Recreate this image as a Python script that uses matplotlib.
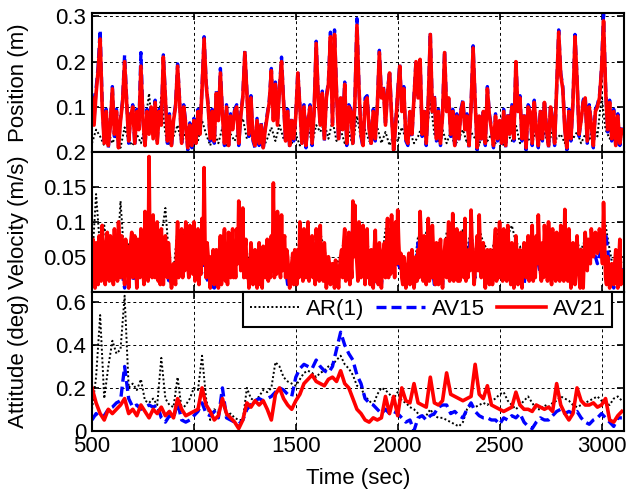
import numpy as np
import matplotlib
matplotlib.use("Agg")
import matplotlib.pyplot as plt

plt.rcParams["font.family"] = ["Liberation Sans", "DejaVu Sans"]
plt.rcParams["font.size"] = 16

# ---- data (position/velocity in milli-units) ----
t5 = np.arange(500, 3101, 5)     # 521 samples
t10 = np.arange(500, 3101, 10)   # 261 samples
t20 = np.arange(500, 3101, 20)   # 131 samples

pos_av21_mm = [
    120, 60, 130, 180, 250, 100, 20, 90, 15, 60,
    140, 40, 90, 10, 70, 110, 200, 110, 25, 80,
    100, 20, 90, 50, 190, 70, 15, 90, 40, 100,
    30, 110, 20, 90, 60, 210, 120, 25, 80, 15,
    70, 100, 190, 110, 20, 100, 60, 10, 60, 15,
    70, 20, 90, 40, 140, 250, 150, 100, 30, 90,
    25, 130, 70, 175, 80, 20, 100, 15, 80, 50,
    90, 100, 20, 80, 120, 220, 130, 40, 120, 30,
    15, 70, 20, 60, 10, 50, 80, 110, 180, 70,
    150, 60, 140, 200, 110, 25, 90, 15, 70, 30,
    80, 175, 100, 20, 100, 15, 70, 100, 20, 90,
    240, 120, 60, 130, 30, 120, 150, 255, 60, 260,
    130, 30, 120, 50, 150, 20, 100, 90, 20, 110,
    280, 140, 40, 15, 110, 120, 50, 20, 90, 30,
    100, 220, 120, 140, 60, 130, 175, 80, 5, 60,
    130, 190, 90, 140, 30, 20, 90, 40, 120, 200,
    120, 205, 40, 90, 20, 110, 260, 90, 120, 30,
    90, 20, 80, 220, 90, 120, 40, 90, 15, 80,
    30, 90, 110, 50, 80, 15, 100, 230, 110, 10,
    80, 30, 90, 20, 140, 80, 50, 15, 80, 30,
    70, 20, 90, 15, 80, 40, 100, 30, 200, 90,
    120, 30, 80, 10, 100, 90, 20, 110, 50, 15,
    90, 30, 110, 50, 15, 100, 70, 20, 140, 265,
    170, 140, 50, 10, 90, 30, 110, 255, 160, 40,
    70, 110, 120, 25, 100, 60, 15, 90, 100, 120,
    180, 290, 140, 50, 110, 30, 90, 15, 80, 20, 50]

pos_av15_mm = [
    130, 70, 140, 190, 270, 110, 25, 95, 10, 65,
    145, 35, 95, 15, 75, 115, 215, 120, 20, 85,
    105, 15, 95, 55, 220, 75, 10, 95, 45, 105,
    35, 115, 25, 95, 65, 215, 125, 20, 85, 10,
    75, 105, 195, 115, 15, 105, 65, 5, 65, 10,
    75, 15, 95, 45, 145, 255, 155, 105, 25, 95,
    20, 135, 75, 185, 85, 15, 105, 10, 85, 55,
    95, 105, 15, 85, 125, 225, 135, 35, 125, 25,
    10, 75, 15, 65, 5, 55, 85, 115, 185, 75,
    155, 65, 145, 210, 115, 20, 95, 10, 75, 25,
    85, 180, 105, 15, 105, 10, 75, 105, 15, 95,
    245, 125, 65, 135, 25, 125, 155, 265, 65, 270,
    135, 25, 125, 55, 155, 15, 105, 95, 15, 115,
    295, 145, 35, 10, 120, 125, 55, 15, 95, 25,
    105, 225, 125, 145, 65, 135, 180, 85, 5, 65,
    135, 195, 95, 145, 25, 15, 95, 35, 125, 205,
    125, 210, 35, 95, 15, 115, 265, 95, 125, 25,
    95, 15, 85, 225, 95, 125, 35, 95, 10, 85,
    25, 95, 115, 55, 85, 10, 105, 235, 115, 5,
    85, 25, 95, 15, 145, 85, 55, 10, 85, 25,
    75, 15, 95, 10, 85, 45, 105, 25, 205, 95,
    125, 25, 85, 5, 105, 95, 15, 115, 55, 10,
    95, 25, 115, 55, 10, 105, 75, 15, 145, 270,
    175, 145, 55, 5, 95, 25, 115, 260, 165, 35,
    75, 115, 125, 20, 105, 65, 10, 95, 105, 125,
    185, 305, 145, 45, 115, 25, 95, 10, 85, 15, 55]

pos_ar1_mm = [
    20, 50, 35, 15, 45, 20, 40, 10, 55, 25,
    15, 40, 20, 60, 130, 30, 50, 125, 40, 15,
    35, 60, 20, 45, 10, 40, 25, 70, 40, 15,
    45, 20, 55, 15, 40, 25, 50, 75, 30, 40,
    15, 35, 10, 30, 55, 25, 60, 30, 45, 20,
    40, 15, 35, 55, 20, 60, 45, 65, 30, 70,
    25, 50, 20, 45, 15, 80, 30, 50, 25, 35,
    55, 20, 45, 15, 40, 25, 55, 30, 45, 20,
    35, 60, 30, 115, 40, 25, 50, 20, 45, 15,
    30, 50, 20, 45, 30, 15, 55, 25, 40, 20,
    35, 15, 40, 25, 60, 20, 45, 30, 20, 55,
    25, 45, 15, 50, 30, 40, 20, 55, 30, 45,
    20, 40, 25, 60, 35, 125, 50, 30, 45, 20, 35]

vel_av21_mm = [
    50, 75, 20, 5, 70, 45, 10, 80, 60, 15, 95, 60, 30, 10, 70, 85, 40, 15, 80, 55,
    30, 10, 90, 20, 50, 15, 100, 70, 20, 80, 60, 30, 10, 75, 50, 65, 5, 40, 70, 85,
    20, 60, 80, 40, 5, 75, 60, 20, 90, 60, 30, 10, 115, 70, 40, 15, 194, 30, 60, 20,
    110, 50, 20, 70, 100, 15, 40, 10, 90, 60, 10, 40, 80, 60, 20, 70, 50, 20, 5, 15,
    40, 20, 10, 60, 100, 20, 30, 70, 90, 20, 50, 30, 100, 70, 40, 20, 95, 30, 60, 25,
    100, 15, 40, 70, 90, 10, 50, 25, 105, 40, 178, 60, 20, 70, 50, 30, 5, 50, 40, 60,
    10, 40, 60, 30, 5, 55, 80, 10, 30, 65, 90, 15, 40, 10, 85, 50, 20, 60, 90, 20,
    50, 20, 90, 40, 130, 80, 30, 60, 120, 20, 60, 75, 20, 45, 5, 30, 70, 50, 10, 40,
    60, 30, 5, 45, 70, 10, 30, 5, 65, 45, 20, 60, 75, 15, 40, 20, 80, 30, 156, 20,
    60, 25, 115, 70, 40, 20, 110, 30, 70, 80, 20, 60, 50, 25, 5, 30, 40, 55, 10, 60,
    30, 10, 60, 20, 100, 75, 40, 15, 90, 55, 20, 70, 100, 15, 30, 60, 80, 20, 50, 10,
    90, 60, 30, 15, 95, 20, 40, 15, 70, 45, 5, 30, 50, 40, 10, 25, 40, 30, 5, 45,
    30, 20, 5, 35, 50, 60, 20, 70, 90, 15, 30, 65, 85, 10, 40, 20, 130, 50, 124, 60,
    40, 15, 100, 70, 20, 60, 95, 40, 10, 65, 90, 20, 40, 10, 60, 40, 5, 60, 88, 15,
    30, 10, 70, 45, 5, 40, 60, 70, 20, 65, 105, 20, 50, 25, 110, 30, 60, 20, 100, 40,
    117, 70, 40, 55, 20, 10, 50, 30, 5, 20, 40, 55, 10, 40, 60, 30, 5, 20, 50, 15,
    60, 20, 115, 75, 30, 15, 80, 50, 10, 60, 105, 15, 40, 20, 95, 60, 20, 10, 70, 40,
    10, 50, 75, 30, 5, 40, 60, 75, 20, 60, 100, 15, 40, 20, 112, 15, 50, 20, 90, 15,
    40, 15, 85, 60, 30, 20, 105, 15, 50, 20, 60, 30, 117, 70, 40, 10, 30, 60, 80, 30,
    110, 60, 20, 50, 70, 30, 5, 45, 60, 30, 10, 60, 50, 10, 30, 70, 90, 15, 40, 20,
    100, 20, 40, 15, 90, 20, 50, 15, 95, 60, 30, 10, 70, 40, 5, 45, 80, 50, 10, 30,
    60, 30, 5, 50, 70, 45, 20, 60, 80, 15, 40, 20, 95, 15, 50, 20, 80, 40, 110, 60,
    30, 15, 70, 20, 95, 65, 40, 15, 100, 70, 30, 10, 90, 20, 50, 15, 85, 20, 40, 15,
    95, 60, 30, 15, 118, 20, 40, 15, 90, 45, 5, 40, 70, 45, 10, 55, 80, 40, 20, 5,
    60, 35, 5, 50, 85, 60, 30, 75, 60, 40, 90, 70, 50, 60, 85, 75, 55, 65, 90, 70,
    60, 40, 128, 70, 20, 10, 50, 30, 5, 20, 40, 30, 10, 40, 60, 25, 5, 45, 75, 10, 30]

vel_av15_mm = [
    40, 60, 50, 45, 30, 45, 20, 40, 5, 50,
    15, 40, 50, 70, 60, 70, 60, 60, 40, 10,
    30, 40, 70, 60, 70, 80, 75, 60, 20, 10,
    5, 20, 50, 45, 60, 60, 80, 50, 15, 50,
    40, 50, 45, 55, 60, 50, 75, 55, 10, 30,
    25, 70, 65, 75, 60, 70, 65, 45, 20, 25,
    20, 40, 65, 60, 90, 65, 70, 60, 40, 10,
    25, 10, 60, 70, 75, 40, 30, 10, 40, 10,
    70, 50, 75, 60, 10, 50, 10, 70, 80, 60,
    30, 70, 45, 80, 20, 70, 50, 45, 35, 60,
    70, 40, 70, 50, 55, 45, 10, 55, 70, 55,
    25, 70, 75, 65, 60, 70, 85, 65, 40, 55,
    40, 60, 45, 60, 40, 65, 85, 35, 5, 45, 30]

vel_ar1_mm = [
    40, 140, 60, 95, 50, 80, 30, 130, 40, 70,
    30, 60, 80, 70, 50, 90, 70, 80, 120, 40,
    30, 90, 80, 85, 70, 80, 90, 85, 60, 30,
    20, 40, 70, 60, 75, 70, 90, 80, 40, 60,
    50, 60, 55, 65, 80, 70, 90, 75, 30, 40,
    40, 80, 75, 85, 70, 75, 85, 60, 40, 30,
    40, 50, 80, 75, 90, 80, 85, 80, 60, 30,
    40, 40, 90, 90, 85, 50, 40, 30, 50, 30,
    80, 70, 85, 80, 40, 70, 40, 85, 95, 80,
    50, 90, 60, 90, 40, 90, 70, 60, 55, 80,
    85, 55, 80, 95, 70, 65, 40, 75, 85, 70,
    40, 80, 85, 80, 75, 80, 95, 80, 60, 70,
    60, 75, 60, 75, 70, 80, 95, 60, 30, 55, 40]

att_av21 = [
    0.20, 0.13, 0.08, 0.05, 0.10, 0.08, 0.10, 0.12, 0.15, 0.08,
    0.10, 0.07, 0.12, 0.09, 0.06, 0.10, 0.08, 0.11, 0.07, 0.09,
    0.06, 0.15, 0.10, 0.07, 0.08, 0.09, 0.10, 0.20, 0.12, 0.09,
    0.05, 0.07, 0.15, 0.08, 0.06, 0.04, 0.01, 0.05, 0.13, 0.11,
    0.14, 0.12, 0.14, 0.10, 0.05, 0.17, 0.20, 0.15, 0.12, 0.10,
    0.14, 0.17, 0.22, 0.24, 0.26, 0.23, 0.22, 0.21, 0.24, 0.25,
    0.23, 0.28, 0.22, 0.20, 0.15, 0.10, 0.08, 0.05, 0.04, 0.06,
    0.05, 0.06, 0.16, 0.08, 0.16, 0.07, 0.20, 0.14, 0.13, 0.22,
    0.13, 0.12, 0.11, 0.25, 0.13, 0.12, 0.14, 0.27, 0.17, 0.16,
    0.15, 0.14, 0.15, 0.16, 0.31, 0.17, 0.15, 0.21, 0.12, 0.11,
    0.10, 0.09, 0.10, 0.11, 0.18, 0.12, 0.10, 0.10, 0.09, 0.12,
    0.11, 0.10, 0.11, 0.09, 0.22, 0.12, 0.08, 0.05, 0.08, 0.20,
    0.14, 0.12, 0.12, 0.13, 0.11, 0.12, 0.15, 0.05, 0.04, 0.07, 0.09]

att_av15 = [
    0.05, 0.08, 0.06, 0.07, 0.10, 0.11, 0.13, 0.14, 0.30, 0.15,
    0.11, 0.12, 0.10, 0.11, 0.12, 0.11, 0.12, 0.06, 0.04, 0.07,
    0.06, 0.13, 0.05, 0.04, 0.05, 0.07, 0.09, 0.13, 0.08, 0.07,
    0.09, 0.06, 0.20, 0.06, 0.05, 0.04, 0.03, 0.05, 0.10, 0.12,
    0.14, 0.15, 0.14, 0.15, 0.16, 0.18, 0.20, 0.19, 0.17, 0.16,
    0.25, 0.29, 0.31, 0.30, 0.29, 0.33, 0.30, 0.28, 0.27, 0.30,
    0.38, 0.46, 0.40, 0.36, 0.33, 0.26, 0.22, 0.15, 0.13, 0.12,
    0.10, 0.08, 0.10, 0.08, 0.09, 0.08, 0.06, 0.04, 0.05, 0.00,
    0.06, 0.07, 0.05, 0.07, 0.08, 0.11, 0.12, 0.12, 0.08, 0.09,
    0.07, 0.06, 0.10, 0.13, 0.09, 0.07, 0.06, 0.06, 0.05, 0.05,
    0.03, 0.06, 0.05, 0.07, 0.06, 0.08, 0.04, 0.02, 0.01, 0.04,
    0.06, 0.05, 0.05, 0.07, 0.09, 0.10, 0.08, 0.09, 0.08, 0.09,
    0.06, 0.04, 0.03, 0.05, 0.06, 0.08, 0.06, 0.04, 0.02, 0.06, 0.06]

att_ar1 = [
    0.10, 0.25, 0.54, 0.15, 0.30, 0.42, 0.36, 0.38, 0.63, 0.20,
    0.22, 0.19, 0.24, 0.14, 0.13, 0.15, 0.12, 0.34, 0.15, 0.12,
    0.11, 0.25, 0.10, 0.12, 0.15, 0.20, 0.19, 0.35, 0.15, 0.05,
    0.10, 0.08, 0.13, 0.07, 0.08, 0.06, 0.05, 0.05, 0.20, 0.15,
    0.14, 0.16, 0.19, 0.18, 0.20, 0.32, 0.30, 0.25, 0.23, 0.22,
    0.21, 0.24, 0.27, 0.28, 0.27, 0.25, 0.27, 0.28, 0.30, 0.31,
    0.33, 0.35, 0.31, 0.29, 0.26, 0.21, 0.20, 0.16, 0.14, 0.12,
    0.17, 0.20, 0.19, 0.17, 0.15, 0.18, 0.14, 0.13, 0.11, 0.10,
    0.08, 0.06, 0.07, 0.10, 0.07, 0.06, 0.06, 0.05, 0.04, 0.03,
    0.02, 0.04, 0.10, 0.12, 0.11, 0.12, 0.13, 0.12, 0.14, 0.15,
    0.17, 0.18, 0.14, 0.12, 0.10, 0.12, 0.14, 0.16, 0.13, 0.10,
    0.10, 0.12, 0.11, 0.13, 0.14, 0.16, 0.15, 0.14, 0.12, 0.11,
    0.12, 0.13, 0.14, 0.15, 0.16, 0.14, 0.13, 0.12, 0.15, 0.16, 0.14]

labels = ["AR(1)", "AV15", "AV21"]
xticks = [500, 1000, 1500, 2000, 2500, 3000]

# ---- styles ----
STY = {
    "AR(1)": dict(color="black", lw=1.4, ls=(0, (1, 1.2))),
    "AV15": dict(color="#0000ff", lw=2.4, ls=(0, (3, 1.5))),
    "AV21": dict(color="#ff0000", lw=2.6, ls="-"),
}

fig = plt.figure(figsize=(6.28, 4.92), dpi=100)
left, width, h = 0.1465, 0.847, 0.2829
bottoms = [0.6904, 0.4075, 0.1246]
axes = [fig.add_axes([left, b, width, h]) for b in bottoms]

panels = [
    ("Position (m)", [(t20, np.array(pos_ar1_mm) / 1000), (t10, np.array(pos_av15_mm) / 1000),
                      (t10, np.array(pos_av21_mm) / 1000)],
     (0, 0.307), [0, 0.1, 0.2, 0.3], ["", "0.1", "0.2", "0.3"]),
    ("Velocity (m/s)", [(t20, np.array(vel_ar1_mm) / 1000), (t20, np.array(vel_av15_mm) / 1000),
                        (t5, np.array(vel_av21_mm) / 1000)],
     (0, 0.2), [0, 0.05, 0.1, 0.15, 0.2], ["", "0.05", "0.1", "0.15", "0.2"]),
    ("Attitude (deg)", [(t20, att_ar1), (t20, att_av15), (t20, att_av21)],
     (0, 0.65), [0, 0.2, 0.4, 0.6], ["0", "0.2", "0.4", "0.6"]),
]

for ax, (ylab, series, ylim, yt, ytl) in zip(axes, panels):
    for name, (x, y) in zip(labels, series):
        ax.plot(x, y, label=name, **STY[name])
    ax.set_xlim(500, 3110)
    ax.set_ylim(*ylim)
    ax.set_yticks(yt)
    ax.set_yticklabels(ytl)
    ax.set_xticks(xticks)
    ax.grid(True, color="black", ls=(0, (3, 3)), lw=0.7)
    ax.tick_params(direction="in", top=True, right=True, length=5, width=1.2,
                   labelsize=16, pad=4)
    for s in ax.spines.values():
        s.set_linewidth(1.5)
    ax.set_ylabel(ylab, fontsize=16)
    ax.yaxis.set_label_coords(-0.118, 0.5)

for ax in axes[:2]:
    ax.tick_params(labelbottom=False)

axes[2].set_xticklabels([str(v) for v in xticks])
axes[2].set_xlabel("Time (sec)", fontsize=16, labelpad=8)
leg = axes[2].legend(ncol=3, loc="upper right", bbox_to_anchor=(0.978, 0.995),
                     borderaxespad=0, fancybox=False, framealpha=1, edgecolor="black",
                     handlelength=2.2, handletextpad=0.3, columnspacing=0.55,
                     borderpad=0.3, fontsize=16)
leg.get_frame().set_linewidth(1.5)
leg.set_zorder(10)

fig.savefig("out.png", dpi=100)
